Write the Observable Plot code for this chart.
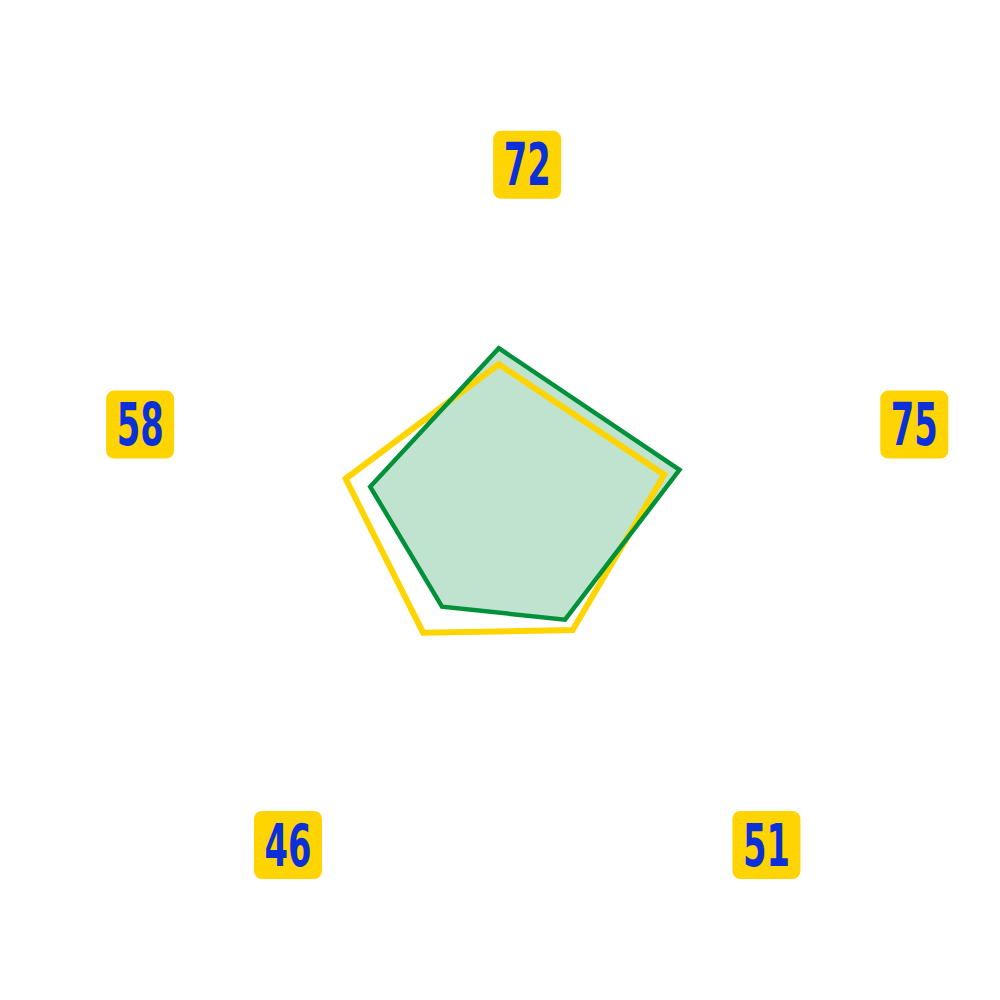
<!DOCTYPE html>
<html>
<head>
<meta charset="utf-8">
<script src="https://cdn.jsdelivr.net/npm/d3@7"></script>
<script src="https://cdn.jsdelivr.net/npm/@observablehq/plot@0.6"></script>
<style>
  html, body { margin: 0; padding: 0; background: #ffffff; }
  #chart { width: 1000px; height: 1000px; }
</style>
</head>
<body>
<div id="chart"></div>
<script>
// ---- data ----
const axisIndex = [0, 1, 2, 3, 4];
const greenValues = [72, 75, 51, 46, 58];
const yellowValues = [67, 70, 55, 56, 66];
const labelValues = [72, 75, 51, 46, 58];

// ---- layout / style ----
const GREEN = "#00913a";
const YELLOW = "#ffd400";
const BLUE = "#0b30d8";
const rScale = d3.scaleLinear().domain([16, 100]).range([0, 270.5]);
const labelRx = 407, labelRy = 376;
const n = axisIndex.length;
const angle = i => (i * 2 * Math.PI) / n;

function polygon(values, name) {
  return axisIndex.map(i => ({
    series: name,
    x: rScale(values[i]) * Math.sin(angle(i)),
    y: rScale(values[i]) * Math.cos(angle(i))
  }));
}
const green = polygon(greenValues, "green");
const yellow = polygon(yellowValues, "yellow");
const labels = axisIndex.map(i => ({
  label: String(labelValues[i]),
  x: labelRx * Math.sin(angle(i)),
  y: labelRy * Math.cos(angle(i))
}));

// rounded-square symbol for label boxes
const roundedSquare = {
  draw(context, size) {
    const h = Math.sqrt(size / Math.PI);
    const rr = 8;
    context.moveTo(-h + rr, -h);
    context.lineTo(h - rr, -h);
    context.arcTo(h, -h, h, -h + rr, rr);
    context.lineTo(h, h - rr);
    context.arcTo(h, h, h - rr, h, rr);
    context.lineTo(-h + rr, h);
    context.arcTo(-h, h, -h, h - rr, rr);
    context.lineTo(-h, -h + rr);
    context.arcTo(-h, -h, -h + rr, -h, rr);
    context.closePath();
  }
};

const LDX = 28.4, LDY = 12.3;

const chart = Plot.plot({
  width: 1000,
  height: 1000,
  margin: 0,
  x: { type: "linear", domain: [-498.3, 501.7], range: [0, 1000], axis: null },
  y: { type: "linear", domain: [-472, 528], range: [1000, 0], axis: null },
  marks: [
    Plot.line(green, { x: "x", y: "y", curve: "linear-closed", fill: GREEN, fillOpacity: 0.25, stroke: "none" }),
    Plot.line(yellow, { x: "x", y: "y", curve: "linear-closed", stroke: YELLOW, strokeWidth: 6, strokeLinejoin: "miter", strokeMiterlimit: 10 }),
    Plot.line(green, { x: "x", y: "y", curve: "linear-closed", stroke: GREEN, strokeWidth: 4.5, strokeLinejoin: "miter", strokeMiterlimit: 10 }),
    Plot.dot(labels, { x: "x", y: "y", r: 34, symbol: roundedSquare, fill: YELLOW, stroke: "none", dx: LDX, dy: LDY }),
    Plot.text(labels, {
      x: "x", y: "y", text: "label", dx: LDX, dy: LDY + 2,
      fill: BLUE, fontSize: 58, fontWeight: "bold",
      fontFamily: "'DejaVu Sans', sans-serif",
      textAnchor: "middle", lineAnchor: "middle", className: "vlabel"
    })
  ]
});
document.getElementById("chart").appendChild(chart);
d3.select(chart).selectAll("g.vlabel text")
  .attr("textLength", 47)
  .attr("lengthAdjust", "spacingAndGlyphs");
</script>
</body>
</html>
